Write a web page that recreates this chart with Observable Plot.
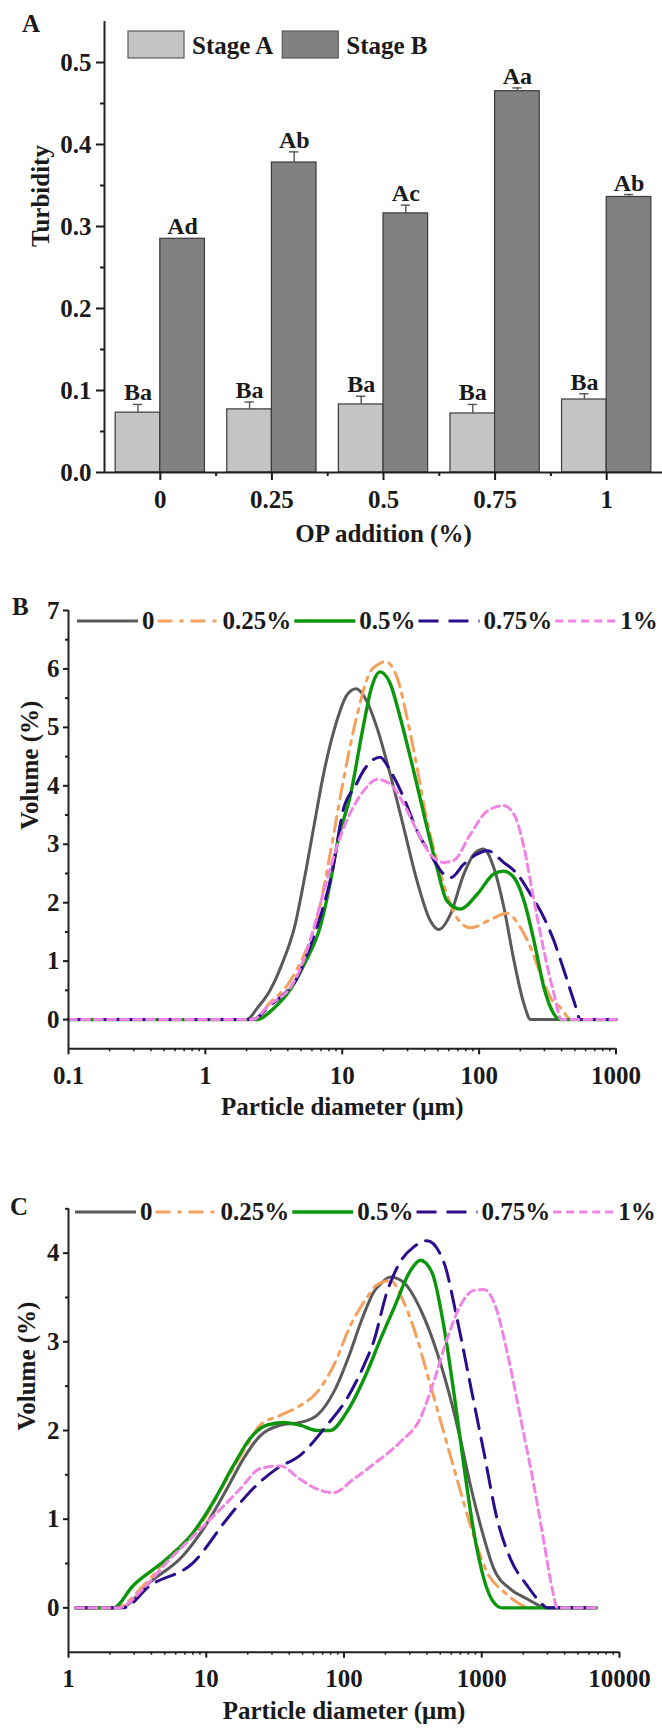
<!DOCTYPE html>
<html><head><meta charset="utf-8">
<script src="https://cdn.jsdelivr.net/npm/d3@7"></script>
<script src="https://cdn.jsdelivr.net/npm/@observablehq/plot@0.6"></script>
<style>
html,body{margin:0;padding:0;background:#fff;}
#page{position:relative;width:662px;height:1733px;overflow:hidden;background:#fff;}
#page > svg{position:absolute;left:0;}
</style></head><body><div id="page"></div>
<script>
const FONT = "'Liberation Serif','Times New Roman',Times,serif";

// ---------- Panel A: turbidity ----------
const opLevels = ["0", "0.25", "0.5", "0.75", "1"];
const stageNames = ["Stage A", "Stage B"];
const stageA = [0.073, 0.077, 0.083, 0.072, 0.089];
const stageAErr = [0.010, 0.009, 0.010, 0.011, 0.007];
const stageALetters = ["Ba", "Ba", "Ba", "Ba", "Ba"];
const stageB = [0.285, 0.378, 0.316, 0.465, 0.336];
const stageBErr = [0.001, 0.013, 0.010, 0.004, 0.003];
const stageBLetters = ["Ad", "Ab", "Ac", "Aa", "Ab"];
const turbidityTicks = [0, 0.1, 0.2, 0.3, 0.4, 0.5];
const turbidityMinor = [0.05, 0.15, 0.25, 0.35, 0.45];

// ---------- Panel B: particle size distribution ----------
const seriesNames = ["0", "0.25%", "0.5%", "0.75%", "1%"];
const b0 = [[0.1,0],[2.0,0],[2.4,0.2],[2.95,0.49],[3.7,1.0],[4.5,1.6],[5.25,2.37],[6.2,3.3],[7.3,4.2],[9.1,5.1],[10.8,5.55],[12.6,5.66],[15.1,5.45],[17.9,5.0],[22.4,4.2],[28.1,3.29],[35.2,2.37],[44,1.69],[50.7,1.54],[61.7,1.8],[77.3,2.49],[94.2,2.86],[108,2.92],[128,2.6],[152,1.91],[180,1.0],[213,0.26],[238,0],[1000,0]];
const b025 = [[0.1,0],[2.25,0],[3.0,0.3],[4.0,0.6],[5.0,1.0],[6.6,1.75],[8.1,2.8],[10.2,4.1],[12.8,5.2],[16,5.95],[18.4,6.08],[20.5,6.13],[25.1,5.86],[29.7,5.17],[35.2,4.31],[41.6,3.4],[49.2,2.72],[58.2,2.14],[68.9,1.74],[86.3,1.57],[121,1.71],[160,1.82],[201,1.57],[238,1.23],[282,0.77],[333,0.37],[395,0.2],[470,0],[1000,0]];
const b05 = [[0.1,0],[2.35,0],[3.18,0.2],[4.24,0.54],[5.25,0.94],[6.98,1.63],[8.1,2.3],[9.27,3.05],[11.5,3.85],[14.2,5.0],[16.4,5.69],[18.9,5.95],[22.4,5.75],[26.5,5.17],[33.2,4.26],[41.6,3.29],[49.2,2.6],[58.2,2.03],[72.8,1.89],[96.4,2.14],[128,2.49],[151,2.54],[180,2.43],[213,2.03],[252,1.34],[298,0.54],[353,0.09],[390,0],[1000,0]];
const b075 = [[0.1,0],[2.2,0],[3.0,0.25],[4.0,0.5],[4.6,0.68],[5.5,1.1],[7.0,1.8],[8.4,2.5],[10.2,3.6],[12.5,4.0],[14.3,4.26],[18.9,4.49],[22.4,4.26],[28.1,3.8],[35.2,3.23],[44,2.83],[55.1,2.49],[62,2.43],[77.3,2.66],[96.4,2.83],[115,2.89],[151,2.69],[190,2.49],[238,2.14],[298,1.74],[353,1.34],[418,0.83],[494,0.31],[550,0],[1000,0]];
const b1 = [[0.1,0],[2.2,0],[2.95,0.26],[4.14,0.54],[5.0,0.9],[5.8,1.34],[7.69,2.37],[9.62,3.11],[12,3.63],[14.3,3.91],[17.9,4.11],[22.4,4.03],[28.1,3.69],[35.2,3.23],[44,2.83],[55.1,2.69],[65,2.72],[86.3,3.17],[115,3.57],[151,3.66],[180,3.51],[213,2.94],[252,2.03],[298,1.17],[353,0.43],[400,0],[1000,0]];
const bTicksX = [0.1, 1, 10, 100, 1000];
const bTicksY = [0, 1, 2, 3, 4, 5, 6, 7];

// ---------- Panel C: particle size distribution ----------
const c0 = [[1.13,0],[2.36,0],[3.9,0.29],[6.8,0.59],[9.9,0.93],[14.1,1.34],[18.6,1.68],[24.6,1.94],[34.4,2.06],[48,2.09],[63.6,2.17],[84,2.43],[111,2.88],[131,3.2],[147,3.4],[164,3.56],[184,3.65],[217,3.73],[271,3.67],[358,3.37],[474,2.88],[593,2.36],[700,1.9],[828,1.38],[979,0.93],[1224,0.44],[1619,0.21],[2140,0.1],[2990,0],[6800,0]];
const c025 = [[1.13,0],[2.2,0],[3.5,0.25],[5.15,0.55],[9.0,0.93],[14.1,1.45],[19.7,1.83],[24.6,2.06],[34.4,2.17],[48,2.28],[63.6,2.43],[84,2.73],[111,3.18],[147,3.5],[173,3.64],[217,3.69],[271,3.45],[339,3.04],[424,2.51],[530,1.98],[662,1.45],[828,0.93],[1094,0.4],[1449,0.18],[1914,0.04],[2265,0],[6800,0]];
const c05 = [[1.13,0],[2.11,0],[2.94,0.25],[5.15,0.55],[8.05,0.85],[11.2,1.19],[15.7,1.6],[20.8,1.91],[27.5,2.06],[36.3,2.09],[48,2.06],[63.6,2.0],[79.4,2.0],[105,2.21],[147,2.66],[184,3.03],[229,3.37],[303,3.8],[358,3.92],[436,3.78],[530,3.18],[627,2.43],[741,1.61],[875,0.86],[1035,0.33],[1224,0.06],[1409,0],[6800,0]];
const c075 = [[1.13,0],[2.49,0],[3.9,0.25],[8.05,0.51],[14.1,1.0],[20.8,1.31],[32.5,1.57],[48,1.72],[75.2,2.06],[105,2.36],[139,2.73],[164,3.0],[205,3.56],[256,3.9],[321,4.07],[401,4.14],[530,3.9],[662,3.26],[828,2.51],[1035,1.76],[1294,1.0],[1619,0.55],[2140,0.25],[2675,0.06],[2990,0],[6800,0]];
const c1 = [[1.13,0],[2.3,0],[3.5,0.22],[5.15,0.51],[8.05,0.81],[11.9,1.07],[17.6,1.34],[24.6,1.57],[34.4,1.6],[48,1.45],[63.6,1.34],[84,1.3],[117,1.45],[164,1.62],[256,1.87],[358,2.14],[448,2.55],[560,3.03],[700,3.41],[875,3.58],[1035,3.59],[1224,3.45],[1531,2.88],[1914,2.14],[2393,1.38],[2830,0.74],[3253,0.21],[3539,0],[6800,0]];
const cTicksX = [1, 10, 100, 1000, 10000];
const cTicksY = [0, 1, 2, 3, 4];

// series styles
const seriesColors = ["#5a5a5a", "#f5a05c", "#0c960c", "#2c0c8c", "#ef84e4"];
const seriesDash = [null, "15,7,4,7", null, "20,10", "8,5"];
const seriesWidth = [3, 3, 3.4, 3, 3];

const page = document.getElementById("page");
const baseStyle = {fontFamily: FONT, fontWeight: "bold", fontSize: "25px", color: "#1a1a1a", background: "transparent", overflow: "visible"};

function logMinor(ticks) {
  const out = [];
  for (let i = 0; i < ticks.length - 1; i++) for (let k = 2; k <= 9; k++) out.push(+(ticks[i] * k).toPrecision(6));
  return out;
}
function place(svg, topPx) { svg.style.top = topPx + "px"; page.appendChild(svg); }

// ---------- Panel A plot ----------
const barW = 0.4;
const rowsA = opLevels.flatMap((c, i) => [
  {i, stage: stageNames[0], value: stageA[i], err: stageAErr[i], label: stageALetters[i], side: -1},
  {i, stage: stageNames[1], value: stageB[i], err: stageBErr[i], label: stageBLetters[i], side: 1}
]);
const barCx = d => d.i + d.side * barW / 2;
const barX1 = d => d.side < 0 ? d.i - barW : d.i;
const barX2 = d => d.side < 0 ? d.i : d.i + barW;
const errTop = d => d.value + d.err;
const fills = {"Stage A": "#c4c4c4", "Stage B": "#818181"};

const plotA = Plot.plot({
  width: 662, height: 580,
  marginLeft: 104, marginRight: 0, marginTop: 21, marginBottom: 108,
  style: baseStyle,
  x: {domain: [-0.5, opLevels.length - 0.5]},
  y: {domain: [0, 0.55]},
  marks: [
    ...stageNames.map(s => Plot.rect(rowsA.filter(d => d.stage === s), {x1: barX1, x2: barX2, y1: 0, y2: "value", fill: fills[s], stroke: "#3a3a3a", strokeWidth: 1.2})),
    Plot.ruleX(rowsA.filter(d => d.err > 0.0015), {x: barCx, y1: "value", y2: errTop, stroke: "#555", strokeWidth: 1.4}),
    Plot.ruleY(rowsA.filter(d => d.err > 0.0015), {y: errTop, x1: d => barCx(d) - 0.042, x2: d => barCx(d) + 0.042, stroke: "#555", strokeWidth: 1.4}),
    Plot.text(rowsA, {x: barCx, y: errTop, text: "label", dy: -4, lineAnchor: "bottom", fontSize: 24}),
    Plot.ruleX([-0.5], {stroke: "#222", strokeWidth: 2}),
    Plot.ruleY([0], {stroke: "#222", strokeWidth: 2}),
    Plot.axisY({ticks: turbidityTicks, tickSize: 8, tickPadding: 5, tickFormat: d3.format(".1f"), strokeWidth: 2, label: null}),
    Plot.axisY({ticks: turbidityMinor, tickSize: 4, tickFormat: () => "", strokeWidth: 2, label: null}),
    Plot.axisX({ticks: opLevels.map((c, i) => i), tickSize: 8, tickPadding: 10, tickFormat: i => opLevels[i], strokeWidth: 2, label: null}),
    Plot.axisX({ticks: d3.range(0.5, opLevels.length - 1, 1), tickSize: 4, tickFormat: () => "", strokeWidth: 2, label: null}),
    Plot.text(["OP addition (%)"], {frameAnchor: "bottom", text: d => d, dy: 69}),
    Plot.text(["Turbidity"], {frameAnchor: "left", text: d => d, rotate: -90, dx: -64})
  ]
});
place(plotA, 0);

// ---------- Panels B and C ----------
function sizePlot(seriesData, opt) {
  return Plot.plot({
    width: 662, height: opt.height,
    marginLeft: 68, marginRight: opt.marginRight, marginTop: opt.marginTop, marginBottom: opt.marginBottom,
    style: baseStyle,
    x: {type: "log", domain: [opt.ticksX[0], opt.ticksX[opt.ticksX.length - 1]]},
    y: {domain: opt.yDomain},
    marks: [
      ...seriesData.map((data, k) => Plot.line(data, {
        x: p => p[0], y: p => p[1], curve: "monotone-x",
        stroke: seriesColors[k], strokeWidth: seriesWidth[k], strokeDasharray: seriesDash[k] ?? undefined
      })),
      Plot.ruleX([opt.ticksX[0]], {stroke: "#222", strokeWidth: 2}),
      Plot.ruleY([opt.yDomain[0]], {stroke: "#222", strokeWidth: 2}),
      Plot.axisY({ticks: opt.ticksY, tickSize: 5, tickPadding: 4, tickFormat: d => String(d), strokeWidth: 2, label: null}),
      Plot.axisY({ticks: opt.minorY, tickSize: 3, tickFormat: () => "", strokeWidth: 2, label: null}),
      Plot.axisX({ticks: opt.ticksX, tickSize: 6, tickPadding: opt.xPad, tickFormat: d => String(d), strokeWidth: 2, label: null}),
      Plot.axisX({ticks: logMinor(opt.ticksX), tickSize: 3, tickFormat: () => "", strokeWidth: 1.5, label: null}),
      Plot.text(["Particle diameter (μm)"], {frameAnchor: "bottom", text: d => d, dy: opt.titleDy}),
      Plot.text(["Volume (%)"], {frameAnchor: "left", text: d => d, rotate: -90, dx: opt.yTitleDx})
    ]
  });
}

const plotB = sizePlot([b0, b025, b05, b075, b1], {
  height: 580, marginRight: 46.5, marginTop: 30, marginBottom: 111.7,
  ticksX: bTicksX, ticksY: bTicksY, minorY: d3.range(0.5, 7, 1), yDomain: [-0.5, 7],
  xPad: 11, titleDy: 66, yTitleDx: -39
});
place(plotB, 580);

const plotC = sizePlot([c0, c025, c05, c075, c1], {
  height: 573, marginRight: 43, marginTop: 48.3, marginBottom: 81.3,
  ticksX: cTicksX, ticksY: cTicksY, minorY: d3.range(0.5, 5, 1), yDomain: [-0.5, 4.5],
  xPad: 11.5, titleDy: 67, yTitleDx: -42
});
place(plotC, 1160);

// ---------- Overlay: panel letters and legends ----------
const overlay = d3.select(page).append("svg")
  .attr("width", 662).attr("height", 1733)
  .style("position", "absolute").style("left", 0).style("top", 0)
  .style("font-family", FONT).style("font-weight", "bold").style("font-size", "25px")
  .attr("fill", "#1a1a1a");

[["A", 22, 32], ["B", 12, 615], ["C", 10, 1215]].forEach(([t, x, y]) =>
  overlay.append("text").attr("x", x).attr("y", y).style("font-size", "25px").text(t));

// Stage legend (panel A)
{
  let x = 128;
  stageNames.forEach(s => {
    overlay.append("rect").attr("x", x).attr("y", 31).attr("width", 56).attr("height", 27)
      .attr("fill", fills[s]).attr("stroke", "#5a5a5a").attr("stroke-width", 1.2);
    const t = overlay.append("text").attr("x", x + 64).attr("y", 54).text(s);
    x = x + 64 + t.node().getComputedTextLength() + 9;
  });
}

// Series legends (panels B and C)
function seriesLegend(x0, y) {
  let x = x0;
  seriesNames.forEach((name, k) => {
    const ln = overlay.append("line").attr("x1", x).attr("x2", x + 61).attr("y1", y).attr("y2", y)
      .attr("stroke", seriesColors[k]).attr("stroke-width", seriesWidth[k]);
    if (seriesDash[k]) ln.attr("stroke-dasharray", seriesDash[k]);
    const t = overlay.append("text").attr("x", x + 65).attr("y", y + 8).text(name);
    x = x + 65 + t.node().getComputedTextLength() + 3;
  });
}
seriesLegend(77, 621);
seriesLegend(75, 1212);
</script></body></html>
